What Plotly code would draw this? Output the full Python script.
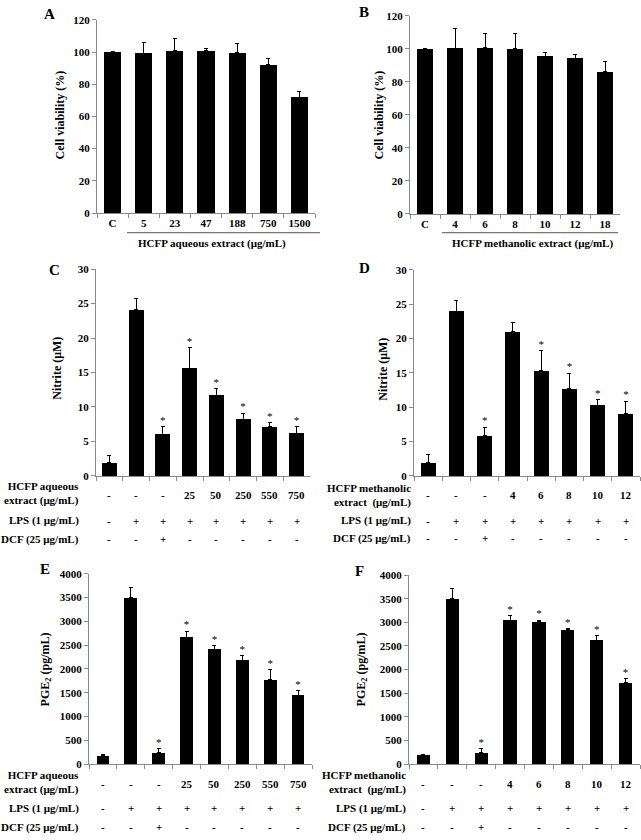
import plotly.graph_objects as go

W, H = 641, 840

# ---------------- data ----------------
A_cats = ["C", "5", "23", "47", "188", "750", "1500"]
A_vals = [100, 99.2, 100.8, 100.8, 99.8, 92.3, 72.0]
A_err = [0.5, 6.7, 7.3, 1.2, 5.5, 3.4, 3.4]

B_cats = ["C", "4", "6", "8", "10", "12", "18"]
B_vals = [100, 100.4, 100.8, 100.0, 95.6, 94.4, 86.2]
B_err = [0.5, 11.7, 8.5, 9.4, 2.0, 2.4, 6.4]

groups = ["g1", "g2", "g3", "g4", "g5", "g6", "g7", "g8"]

C_vals = [1.9, 24.1, 6.0, 15.6, 11.7, 8.2, 7.1, 6.2]
C_err = [1.1, 1.6, 1.2, 3.0, 1.0, 0.9, 0.6, 0.95]
C_sig = ["", "", "*", "*", "*", "*", "*", "*"]

D_vals = [1.9, 24.0, 5.9, 21.0, 15.3, 12.7, 10.3, 9.1]
D_err = [1.15, 1.5, 1.2, 1.4, 2.9, 2.25, 0.8, 1.8]
D_sig = ["", "", "*", "", "*", "*", "*", "*"]

E_vals = [180, 3500, 240, 2670, 2414, 2186, 1780, 1450]
E_err = [20, 220, 80, 125, 70, 100, 210, 100]
E_sig = ["", "", "*", "*", "*", "*", "*", "*"]

F_vals = [180, 3500, 240, 3040, 3015, 2845, 2615, 1715]
F_err = [20, 220, 80, 100, 30, 20, 100, 90]
F_sig = ["", "", "*", "*", "*", "*", "*", "*"]

aq_doses = ["-", "-", "-", "25", "50", "250", "550", "750"]
me_doses = ["-", "-", "-", "4", "6", "8", "10", "12"]
lps_row = ["-", "+", "+", "+", "+", "+", "+", "+"]
dcf_row = ["-", "-", "+", "-", "-", "-", "-", "-"]

# ---------------- helpers ----------------
FONT = "Liberation Serif"
def px(x):
    return x / W
def py(y):
    return 1 - y / H

fig = go.Figure()

def add_panel(i, cats, vals, errs, sig, xdom, ydom, yrange, dtick, bw, showx):
    xa = "x" if i == 1 else f"x{i}"
    ya = "y" if i == 1 else f"y{i}"
    fig.add_trace(go.Bar(
        x=cats, y=vals, xaxis=xa, yaxis=ya, width=bw,
        marker=dict(color="black", line=dict(width=0)),
        error_y=dict(type="data", array=errs, arrayminus=[0]*len(errs),
                     symmetric=False, color="black", thickness=1, width=2),
        showlegend=False, hoverinfo="skip"))
    if sig is not None:
        sx = [c for c, s in zip(cats, sig) if s]
        sy = [v + e for v, e, s in zip(vals, errs, sig) if s]
        st = [s for s in sig if s]
        fig.add_trace(go.Scatter(
            x=sx, y=sy, text=st,
            mode="text", textposition="top center", xaxis=xa, yaxis=ya,
            textfont=dict(family=FONT, size=11, color="black"),
            showlegend=False, hoverinfo="skip", cliponaxis=False))
    axis_x = dict(domain=[px(xdom[0]), px(xdom[1])], anchor=ya,
                  type="category", categoryorder="array", categoryarray=cats,
                  range=[-0.5, len(cats) - 0.5],
                  showline=True, linecolor="#8a8a8a", linewidth=1,
                  ticks="outside", tickson="boundaries", ticklen=4,
                  tickcolor="#8a8a8a", showgrid=False, zeroline=False,
                  showticklabels=showx, tickangle=0,
                  tickfont=dict(family=FONT, size=11, color="black", weight="bold"))
    axis_y = dict(domain=[py(ydom[1]), py(ydom[0])], anchor=xa,
                  range=yrange, dtick=dtick, tick0=0,
                  showline=True, linecolor="#8a8a8a", linewidth=1,
                  ticks="outside", ticklen=4, tickcolor="#8a8a8a",
                  showgrid=False, zeroline=False,
                  tickfont=dict(family=FONT, size=11, color="black", weight="bold"))
    key = "" if i == 1 else str(i)
    fig.update_layout(**{f"xaxis{key}": axis_x, f"yaxis{key}": axis_y})

add_panel(1, A_cats, A_vals, A_err, None, (97, 315), (14, 210), [0, 120], 20, 0.55, True)
add_panel(2, B_cats, B_vals, B_err, None, (410, 620), (10, 211), [0, 120], 20, 0.55, True)
add_panel(3, groups, C_vals, C_err, C_sig, (96, 310), (267, 476.7), [0, 30], 5, 0.56, False)
add_panel(4, groups, D_vals, D_err, D_sig, (414, 640), (267.7, 476.7), [0, 30], 5, 0.53, False)
add_panel(5, groups, E_vals, E_err, E_sig, (89, 312), (576, 769), [0, 4000], 500, 0.46, False)
add_panel(6, groups, F_vals, F_err, F_sig, (409, 640), (577.3, 769), [0, 4000], 500, 0.46, False)

ann = []
def text(x, y, s, size=11, xanchor="center", align="center", angle=0, xref="paper"):
    ann.append(dict(x=x if xref != "paper" else px(x), y=py(y), xref=xref, yref="paper",
                    text=s, showarrow=False, xanchor=xanchor, yanchor="middle",
                    align=align, textangle=angle,
                    font=dict(family=FONT, size=size, color="black", weight="bold")))

# panel letters
for lab, x, y in [("A", 49, 8), ("B", 364, 6), ("C", 54, 268), ("D", 364, 266),
                  ("E", 45, 571), ("F", 359, 573)]:
    text(x, y, lab, size=15)

# y titles
text(60, 111, "Cell viability (%)", size=12, angle=-90)
text(379, 111, "Cell viability (%)", size=12, angle=-90)
text(57, 368, "Nitrite (μM)", size=12, angle=-90)
text(383, 369, "Nitrite (μM)", size=12, angle=-90)
text(46, 673, "PGE<sub>2</sub> (pg/mL)", size=12, angle=-90)
text(362, 673, "PGE<sub>2</sub> (pg/mL)", size=12, angle=-90)

# underlined group labels for A and B
text(212, 241, "HCFP aqueous extract (μg/mL)", size=11)
text(532, 241, "HCFP methanolic extract (μg/mL)", size=11)
shapes = [
    dict(type="line", xref="paper", yref="paper", x0=px(127), x1=px(320), y0=py(230), y1=py(230),
         line=dict(color="#555", width=1)),
    dict(type="line", xref="paper", yref="paper", x0=px(442), x1=px(618), y0=py(230), y1=py(230),
         line=dict(color="#555", width=1)),
]

# treatment tables
def table(xref, label_x, doses, dose_label, y_lab, y_dose, y_lps, y_dcf):
    text(label_x, y_lab, dose_label, size=11, xanchor="right", align="right")
    text(label_x, y_lps, "LPS (1 μg/mL)", size=11, xanchor="right", align="right")
    text(label_x, y_dcf, "DCF (25 μg/mL)", size=11, xanchor="right", align="right")
    for g, d, l, c in zip(groups, doses, lps_row, dcf_row):
        text(g, y_dose, d, size=11, xref=xref)
        text(g, y_lps, l, size=11, xref=xref)
        text(g, y_dcf, c, size=11, xref=xref)

table("x3", 81, aq_doses, "HCFP aqueous<br>extract (μg/mL)", 495, 496, 522, 541)
table("x4", 413, me_doses, "HCFP methanolic<br>extract  (μg/mL)", 497, 496, 522, 540)
table("x5", 81, aq_doses, "HCFP aqueous<br>extract (μg/mL)", 788, 789, 814, 833)
table("x6", 408, me_doses, "HCFP methanolic<br>extract  (μg/mL)", 788, 789, 814, 833)

fig.update_layout(width=W, height=H, margin=dict(l=0, r=0, t=0, b=0),
                  paper_bgcolor="white", plot_bgcolor="white",
                  annotations=ann, shapes=shapes, bargap=0,
                  font=dict(family=FONT, color="black"))

fig.write_html("out.html", config={"displayModeBar": False},
               post_script="document.body.style.margin='0px';document.body.style.overflow='hidden';")
